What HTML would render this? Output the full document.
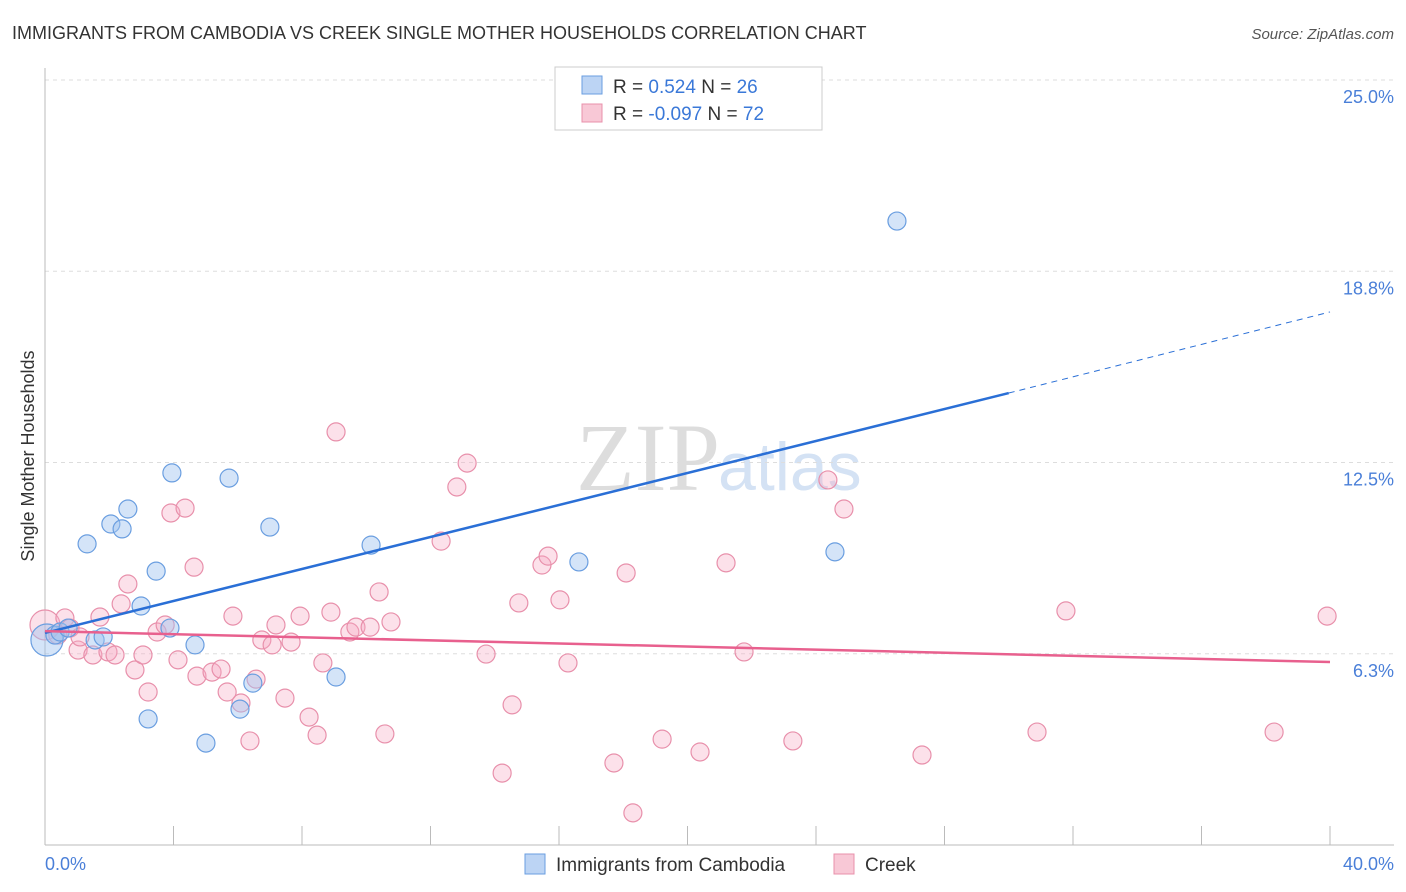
<!DOCTYPE html>
<html><head><meta charset="utf-8"><style>
body{margin:0;background:#fff;font-family:"Liberation Sans",sans-serif}
</style></head><body>
<svg width="1406" height="892" style="display:block">
<text x="12" y="39" font-size="18" fill="#333">IMMIGRANTS FROM CAMBODIA VS CREEK SINGLE MOTHER HOUSEHOLDS CORRELATION CHART</text>
<text x="1394" y="39" font-size="15" fill="#555" font-style="italic" text-anchor="end">Source: ZipAtlas.com</text>
<text x="720" y="490" font-size="96" fill="#ddd" text-anchor="end" font-family="Liberation Serif,serif">ZIP</text>
<text x="718" y="490" font-size="68" fill="#d4e2f4">atlas</text>
<g id="grid"></g>
<line x1="45" y1="68" x2="45" y2="845" stroke="#bbb"/>
<line x1="45" y1="845" x2="1394" y2="845" stroke="#bbb"/>
<g id="ticks"></g>
<text transform="translate(34,456) rotate(-90)" font-size="18" fill="#333" text-anchor="middle">Single Mother Households</text>
<text x="45" y="870" font-size="18" fill="#4a7fd8">0.0%</text>
<text x="1394" y="870" font-size="18" fill="#4a7fd8" text-anchor="end">40.0%</text>
<g id="pts"></g>
<g id="lines"></g>
<g>
<rect x="555" y="67" width="267" height="63" fill="#fff" stroke="#ccc"/>
<rect x="582" y="76" width="20" height="18" fill="#bcd4f4" stroke="#6a9ee0"/>
<rect x="582" y="104" width="20" height="18" fill="#f8c8d6" stroke="#e890ab"/>
<text x="613" y="93" font-size="19" fill="#333">R =  <tspan fill="#3a78d8">0.524</tspan>   N = <tspan fill="#3a78d8">26</tspan></text>
<text x="613" y="120" font-size="19" fill="#333">R = <tspan fill="#3a78d8">-0.097</tspan>   N = <tspan fill="#3a78d8">72</tspan></text>
</g>
<g>
<rect x="525" y="854" width="20" height="20" fill="#bcd4f4" stroke="#6a9ee0"/>
<text x="556" y="871" font-size="19" fill="#333">Immigrants from Cambodia</text>
<rect x="834" y="854" width="20" height="20" fill="#f8c8d6" stroke="#e890ab"/>
<text x="865" y="871" font-size="19" fill="#333">Creek</text>
</g>
</svg>
<script>
const yTicks=[25,18.75,12.5,6.25];
const yTickLabels=["25.0%","18.8%","12.5%","6.3%"];
const xTicks=[0,4,8,12,16,20,24,28,32,36,40];
const blueX=[0.06,0.31,0.47,0.72,1.56,1.81,1.31,2.05,2.40,2.58,2.99,3.46,3.89,3.95,3.21,4.67,5.01,5.73,6.47,6.07,7.00,9.06,10.15,16.62,24.59,26.52];
const blueY=[6.70,6.86,6.96,7.09,6.70,6.80,9.84,10.49,10.33,10.98,7.81,8.95,7.09,12.16,4.12,6.54,3.33,11.99,5.29,4.44,10.39,5.49,9.80,9.25,9.58,20.39];
const pinkX=[0,0.62,0.78,0.40,1.03,1.09,1.49,1.71,1.96,2.18,2.37,2.58,2.80,3.05,3.21,3.49,3.74,3.92,4.14,4.36,4.64,4.73,5.20,5.48,5.67,5.85,6.10,6.38,6.57,6.75,7.07,7.19,7.47,7.66,7.94,8.22,8.47,8.65,8.90,9.06,9.49,9.68,10.12,10.40,10.58,10.77,12.33,12.82,13.14,13.73,14.23,14.54,14.75,15.47,15.66,16.03,16.28,17.71,18.09,18.30,19.21,20.39,21.20,21.76,23.28,24.37,24.87,27.30,30.88,31.78,38.26,39.91];
const pinkY=[7.19,7.42,7.09,6.86,6.37,6.80,6.21,7.45,6.31,6.21,7.88,8.53,5.72,6.21,5.00,6.96,7.19,10.85,6.05,11.01,9.08,5.52,5.65,5.75,5.00,7.48,4.64,3.40,5.42,6.70,6.54,7.19,4.80,6.63,7.48,4.18,3.59,5.95,7.61,13.50,6.96,7.12,7.12,8.27,3.63,7.29,9.93,11.70,12.48,6.24,2.35,4.58,7.91,9.15,9.44,8.01,5.95,2.68,8.89,1.05,3.46,3.04,9.22,6.31,3.40,11.93,10.98,2.94,3.69,7.65,3.69,7.48];
const blueFit=[6.93,14.77,17.42]; // at x=0, 30, 40
const pinkFit=[6.99,5.98]; // at x=0, 40
const sx=v=>45+v/40*1285;
const sy=v=>845-v/25*765;
const NS="http://www.w3.org/2000/svg";
function mk(tag,attrs,parent){const e=document.createElementNS(NS,tag);for(const k in attrs)e.setAttribute(k,attrs[k]);parent.appendChild(e);return e;}
const grid=document.getElementById('grid');
yTicks.forEach((t,i)=>{
 const l=mk('line',{x1:45,x2:1394,y1:sy(t),y2:sy(t),stroke:'#ddd','stroke-dasharray':'4,4'},grid);
 
 
 const tx=mk('text',{x:1394,y:sy(t)+23,'font-size':18,fill:'#4a7fd8','text-anchor':'end'},grid);
 tx.textContent=yTickLabels[i];
 
 
});
const ticks=document.getElementById('ticks');
xTicks.forEach(t=>{
 const l=mk('line',{x1:sx(t),x2:sx(t),y1:826,y2:845,stroke:'#bbb'},ticks);
 
 
});
const pts=document.getElementById('pts');
pinkX.forEach((x,i)=>{
 const c=mk('circle',{cx:sx(x),cy:sy(pinkY[i]),r:i==0?15:9,fill:'rgba(245,170,195,0.35)',stroke:'#e890ab','stroke-width':1.2},pts);
 
 
});
blueX.forEach((x,i)=>{
 const c=mk('circle',{cx:sx(x),cy:sy(blueY[i]),r:i==0?16:9,fill:'rgba(160,196,240,0.45)',stroke:'#6a9ee0','stroke-width':1.2},pts);
 
 
});
const lines=document.getElementById('lines');
const b1=mk('line',{x1:sx(0),y1:sy(blueFit[0]),x2:sx(30),y2:sy(blueFit[1]),stroke:'#2a6fd6','stroke-width':2.5},lines);


const b2=mk('line',{x1:sx(30),y1:sy(blueFit[1]),x2:sx(40),y2:sy(blueFit[2]),stroke:'#2a6fd6','stroke-width':1,'stroke-dasharray':'6,5'},lines);


const p1=mk('line',{x1:sx(0),y1:sy(pinkFit[0]),x2:sx(40),y2:sy(pinkFit[1]),stroke:'#e8608e','stroke-width':2.5},lines);


</script>
</body></html>
